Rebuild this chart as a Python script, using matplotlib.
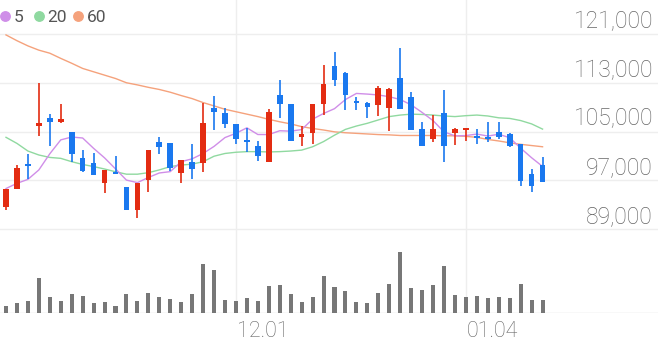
import numpy as np
import pandas as pd
import matplotlib
matplotlib.use("Agg")
import matplotlib.pyplot as plt

plt.rcParams['font.family'] = ['Roboto', 'DejaVu Sans']

# daily candles (oldest -> newest)
opens = [92550, 95600, 99650, 105900, 107270, 106500, 105000, 100700, 99900, 96600,
         98400, 95850, 92100, 97000, 103200, 103050, 98250, 99950, 99800, 108800,
         108050, 106200, 103600, 102700, 100050, 111050, 109450, 104050, 104750, 109450,
         115800, 114650, 110050, 109600, 109400, 108850, 113700, 110600, 105400, 103800,
         108050, 104750, 105250, 104300, 104150, 104850, 104550, 102900, 98000, 99500]
highs = [95600, 99550, 101250, 113000, 107800, 109450, 105000, 102050, 101400, 98700,
         100950, 95850, 96500, 102050, 104150, 103050, 100300, 102950, 109750, 110800,
         108800, 106200, 105500, 103450, 108650, 113400, 109450, 105900, 109500, 115950,
         118100, 114800, 110600, 109900, 112450, 112150, 118650, 111550, 106600, 107700,
         111800, 105600, 105500, 105400, 106600, 106500, 104700, 102900, 98850, 100850]
lows = [92200, 95500, 97150, 104300, 102600, 106450, 100050, 98400, 97850, 94850,
        97950, 92100, 90750, 95150, 101250, 98550, 96500, 97150, 98400, 105250,
        105500, 102950, 101700, 100200, 100050, 107150, 103450, 102600, 102950, 107700,
        112500, 108450, 108500, 107150, 107600, 105150, 108650, 105250, 102700, 103350,
        99950, 102800, 103500, 102900, 103350, 103800, 102500, 96050, 95150, 96650]
closes = [95600, 98950, 99350, 106340, 106500, 107000, 101300, 98550, 97850, 98700,
          97950, 92100, 96500, 102050, 102400, 99050, 100300, 98800, 106450, 108200,
          106300, 103800, 103300, 100950, 108150, 109450, 103450, 104600, 109500, 112800,
          113400, 110950, 109600, 108950, 112100, 111950, 108650, 105250, 102700, 105400,
          102700, 105400, 105500, 103900, 103800, 104150, 102600, 96900, 96050, 96650]
volumes = [73, 97, 120, 353, 157, 123, 187, 167, 103, 113,
           67, 187, 123, 197, 157, 140, 113, 190, 490, 433,
           133, 123, 150, 123, 273, 277, 187, 110, 160, 370,
           260, 223, 110, 100, 203, 293, 613, 253, 227, 277,
           467, 183, 160, 170, 150, 157, 147, 287, 130, 130]

# moving averages (5 computed; head of 5 and the 20/60)
ma5_head = [95650, 96500, 97150, 98700]
ma20 = [104050, 103050, 101800, 101150, 100750, 100600, 100050, 99600, 99250, 98850,
        98400, 98000, 98000, 98250, 98700, 99250, 99500, 99650, 100050, 100950,
        101400, 101600, 101700, 101700, 101650, 101700, 101800, 101950, 102500, 103350,
        104400, 105350, 105900, 106350, 106900, 107450, 107700, 107850, 107800, 107700,
        107550, 107450, 107600, 107700, 107550, 107250, 107150, 106800, 106250, 105400]
ma60 = [120850, 119900, 119050, 118350, 117850, 117000, 116200, 115350, 114800, 114250,
        113700, 113000, 112650, 112250, 111900, 111450, 110900, 110400, 109750, 109200,
        108650, 108250, 107850, 107450, 107000, 106600, 106250, 105800, 105500, 105250,
        104950, 104800, 104700, 104600, 104500, 104450, 104350, 104350, 104350, 104350,
        104300, 104300, 104200, 104050, 103700, 103450, 103150, 102900, 102700, 102500]

price_ticks = [89000, 97000, 105000, 113000, 121000]
date_ticks = {21: '12.01', 42: '01.04'}

df = pd.DataFrame({'open': opens, 'high': highs, 'low': lows, 'close': closes, 'vol': volumes})
ma5 = df['close'].rolling(5).mean().values
ma5[:4] = ma5_head
x = np.arange(len(df))

UP = '#e32c12'
DOWN = '#1a78ef'
GRID = '#eeeeee'

fig = plt.figure(figsize=(6.58, 3.42), dpi=100)
ax = fig.add_axes([0, 102 / 342, 1, 240 / 342])
axv = fig.add_axes([0, 29 / 342, 1, 73 / 342])

xlim = (-6 / 10.95, (658 - 6) / 10.95)
for a in (ax, axv):
    a.set_xlim(*xlim)
    a.axis('off')
    for k in date_ticks:
        a.axvline(k, color=GRID, lw=1, zorder=0)

ax.set_ylim(121000 - 206 * 164.06, 121000 + 34 * 164.06)
for p in price_ticks:
    ax.axhline(p, color=GRID, lw=1, zorder=0)
    ax.annotate(f'{p:,}', xy=(0.9925, p), xycoords=('axes fraction', 'data'),
                xytext=(0, 4.3), textcoords='offset points', ha='right', va='baseline',
                fontsize=16.5, color='#666666', fontweight='light')

# moving average lines
ax.plot(x, ma60, color='#f5a27c', lw=1, zorder=2)
ax.plot(x, ma20, color='#90d9a0', lw=1, zorder=2)
ax.plot(x, ma5, color='#d08ee8', lw=1, zorder=2)

# candles
up = df['close'] >= df['open']
colors = np.where(up, UP, DOWN)
ax.vlines(x, df['low'], df['high'], colors=colors, lw=1.2, zorder=3)
body_lo = np.minimum(df['open'], df['close'])
body_h = np.maximum(np.abs(df['close'] - df['open']), 250)
ax.bar(x, body_h, bottom=body_lo, width=0.52, color=colors, zorder=4)

# volume
axv.set_ylim(0, 730)
axv.bar(x, df['vol'], width=0.37, color='#777777', zorder=2)
axv.axhline(0, color='#dddddd', lw=1, zorder=1)
for k, lab in date_ticks.items():
    axv.annotate(lab, xy=(k, 0), xytext=(0.8, -17.5), textcoords='offset points',
                 ha='left', va='baseline', fontsize=15.5, color='#666666',
                 fontweight='light', annotation_clip=False)

# legend
leg = [('5', '#cf8ee8', 5), ('20', '#8fd9a0', 38.7), ('60', '#f5a27c', 78)]
for lab, col, px in leg:
    fig.add_artist(plt.Line2D([px / 658], [1 - 16 / 342], marker='o', markersize=6.8,
                              color=col, linestyle='none', transform=fig.transFigure))
    fig.text((px + 8.5) / 658, 1 - 22.5 / 342, lab, fontsize=12.5, color='#555555',
             va='baseline', ha='left')

fig.savefig('out.png', dpi=100)
